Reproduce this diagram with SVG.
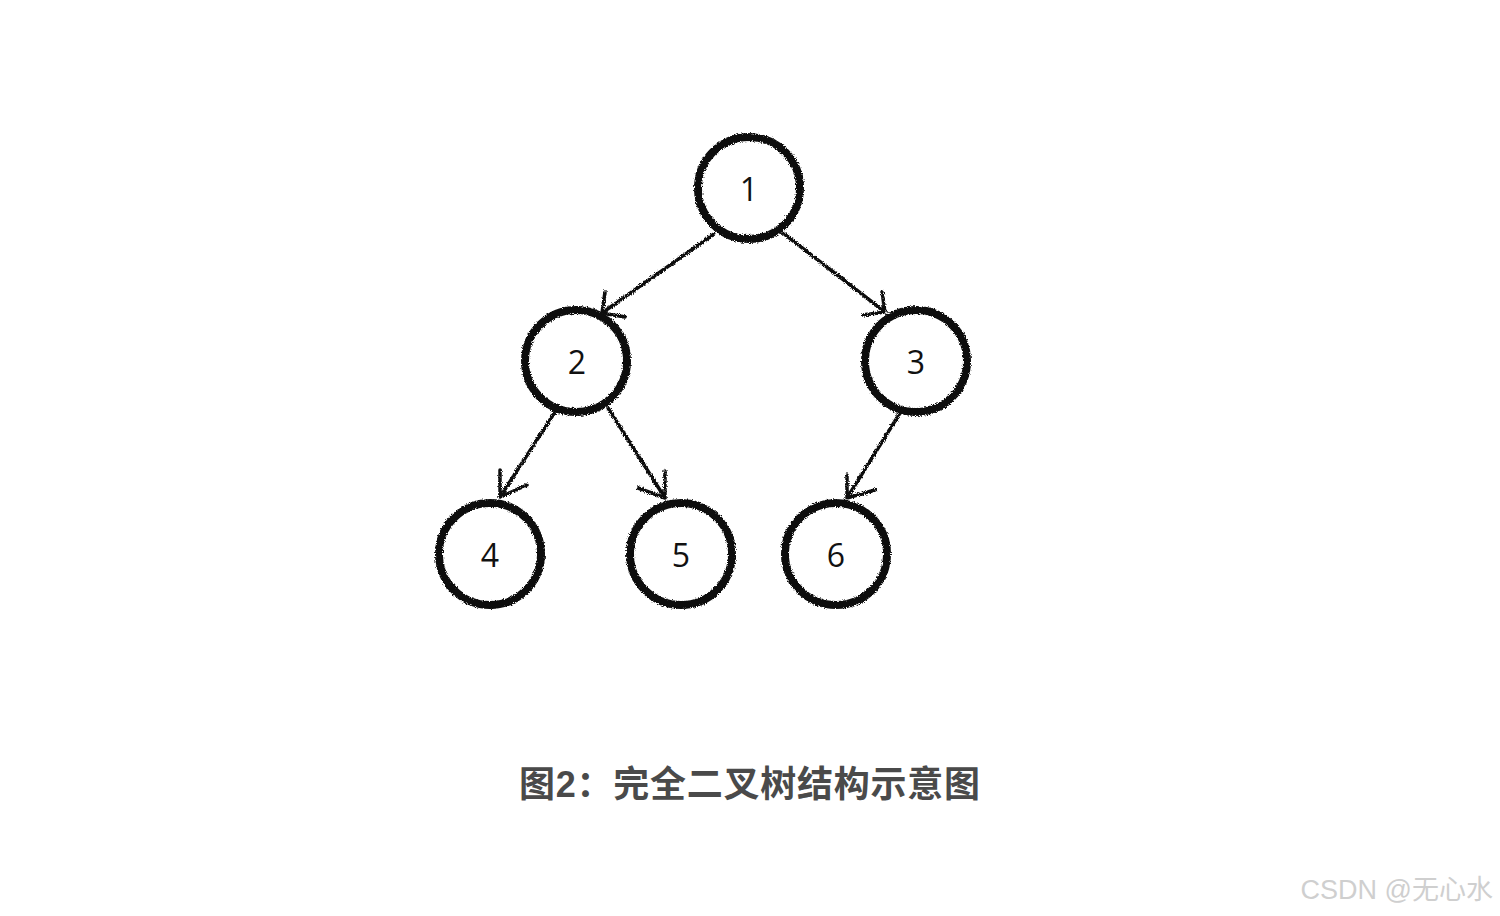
<svg xmlns="http://www.w3.org/2000/svg" width="1500" height="916" viewBox="0 0 1500 916">
<defs>
<filter id="rough" x="-20%" y="-20%" width="140%" height="140%">
<feTurbulence type="fractalNoise" baseFrequency="0.9" numOctaves="2" seed="3" result="n"/>
<feDisplacementMap in="SourceGraphic" in2="n" scale="4" xChannelSelector="R" yChannelSelector="G"/>
</filter>
</defs>
<style>
.node circle{fill:none;stroke:#111;stroke-width:8}
.node text{font-family:"Open Sans","Liberation Sans",sans-serif;font-weight:400;font-size:32px;fill:#111;text-anchor:middle}
.edge{fill:none;stroke:#111;stroke-width:3.5;stroke-linecap:round;stroke-linejoin:round}
.cap{font-family:"Liberation Sans","Noto Sans CJK SC",sans-serif;font-weight:bold;font-size:36px;fill:#4a4a4a}
.wm{font-family:"Liberation Sans","Noto Sans CJK SC",sans-serif;font-size:27px;fill:#cfcfcf}
</style>
<rect width="1500" height="916" fill="#fff"/>
<g id="connectors" filter="url(#rough)">
<path class="edge" d="M714,234 L602,313 M605,292 L602,313 L625,317"/>
<path class="edge" d="M783,233 L885,312 M882,292 L885,312 L863,315"/>
<path class="edge" d="M555,412 L500,497 M500,470 L500,497 L527,485"/>
<path class="edge" d="M608,408 L665,498 M665,471 L665,498 L638,488"/>
<path class="edge" d="M900,413 L847,498 M847,475 L847,498 L875,490"/>
</g>
<g id="n1" class="node"><circle cx="749" cy="188" r="51" filter="url(#rough)"/><text x="749" y="201">1</text></g>
<g id="n2" class="node"><circle cx="576" cy="361" r="51" filter="url(#rough)"/><text x="577" y="374">2</text></g>
<g id="n3" class="node"><circle cx="916" cy="361" r="51" filter="url(#rough)"/><text x="916" y="374">3</text></g>
<g id="n4" class="node"><circle cx="490" cy="554" r="51" filter="url(#rough)"/><text x="490" y="567">4</text></g>
<g id="n5" class="node"><circle cx="681" cy="554" r="51" filter="url(#rough)"/><text x="681" y="567">5</text></g>
<g id="n6" class="node"><circle cx="836" cy="554" r="51" filter="url(#rough)"/><text x="836" y="567">6</text></g>
<text class="cap" x="519" y="797" textLength="461">图2：完全二叉树结构示意图</text>
<text class="wm" x="1493" y="899" text-anchor="end">CSDN @无心水</text>
</svg>
